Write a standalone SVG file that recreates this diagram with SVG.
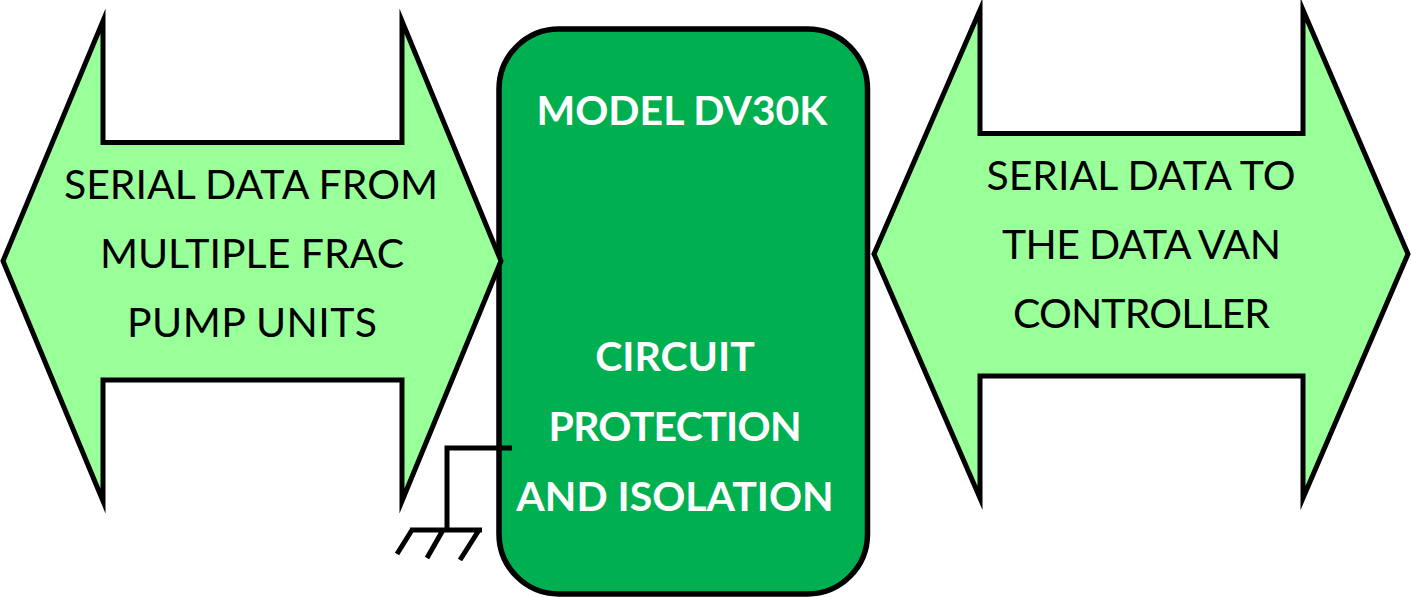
<svg xmlns="http://www.w3.org/2000/svg" width="1411" height="597" viewBox="0 0 1411 597">
<style>
.arrow{fill:#99ff99;stroke:#000;stroke-width:5;stroke-miterlimit:10}
.box{fill:#00b050;stroke:#000;stroke-width:5.5}
.t{font-family:Lato,"Open Sans","Liberation Sans",sans-serif;font-size:41px;text-anchor:middle;fill:#000}
.w{font-weight:700;font-size:41px;fill:#fff}
.g{fill:none;stroke:#000;stroke-width:5}
</style>
<g id="model-box">
<rect class="box" x="499" y="29" width="368.500" height="565" rx="60" ry="60"/>
<text class="t w" x="682" y="125">MODEL DV30K</text>
<text class="t w" x="675" y="371">CIRCUIT</text>
<text class="t w" x="675" y="441" textLength="253">PROTECTION</text>
<text class="t w" x="675" y="511">AND ISOLATION</text>
</g>
<g id="left-arrow">
<polygon class="arrow" points="3,261 103,21 103,142.500 402,142.500 402,21 501,261 402,501 402,380 103,380 103,501"/>
<text class="t" x="251" y="199">SERIAL DATA FROM</text>
<text class="t" x="252" y="268">MULTIPLE FRAC</text>
<text class="t" x="252" y="337" textLength="250">PUMP UNITS</text>
</g>
<g id="right-arrow">
<polygon class="arrow" points="874,254 980,10 980,133.500 1303,133.500 1303,10 1408,254 1303,498 1303,376 980,376 980,498"/>
<text class="t" x="1141" y="190">SERIAL DATA TO</text>
<text class="t" x="1141.500" y="259" textLength="279">THE DATA VAN</text>
<text class="t" x="1141.500" y="328" textLength="257">CONTROLLER</text>
</g>
<g id="connectors">
<path class="g" d="M512 448H447V530"/>
<path class="g" d="M410 530H482M412 530L397 554M443 530L427 558M479 530L460 560"/>
</g>
</svg>
